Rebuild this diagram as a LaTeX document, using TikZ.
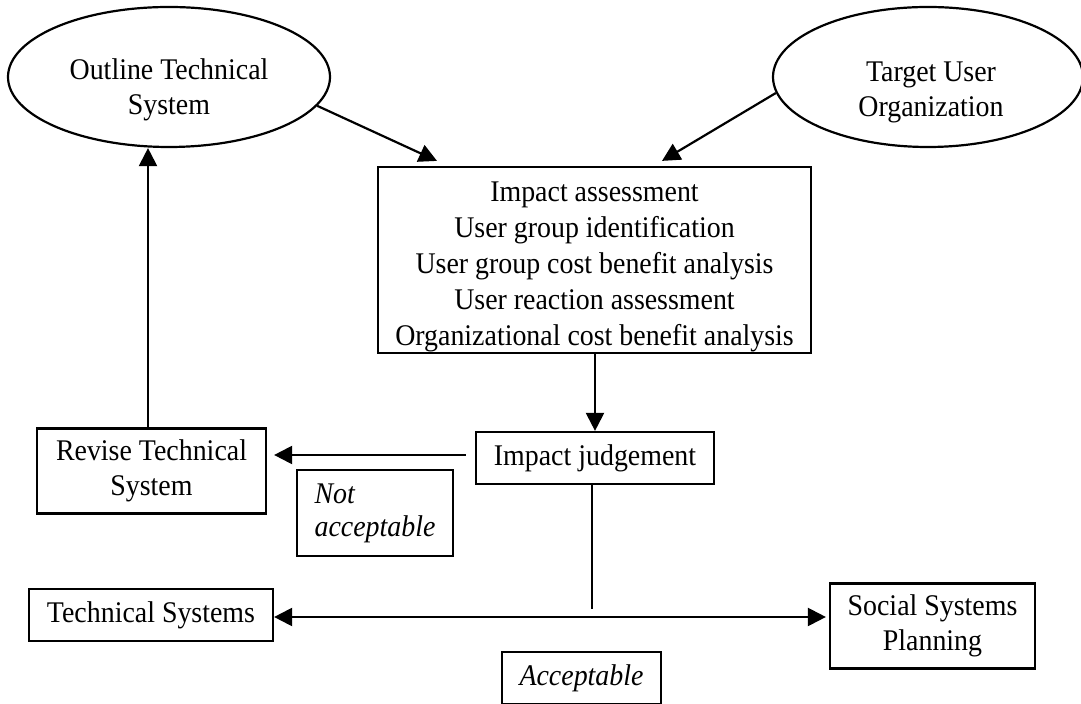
\documentclass[tikz,border=0pt]{standalone}
\usepackage{fontspec}
\setmainfont{Liberation Serif}[FakeStretch=0.93]
\usetikzlibrary{arrows.meta,shapes.geometric}
\begin{document}
\begin{tikzpicture}[x=0.5pt,y=-0.5pt,
  every node/.style={font=\fontsize{15pt}{17.5pt}\selectfont, inner sep=0pt},
  oval/.style={draw, ellipse, line width=1.1pt},
  plain/.style={align=center},
  box/.style={draw, rectangle, line width=1.1pt, align=center},
  note/.style={box, font=\fontsize{15pt}{17.5pt}\selectfont\itshape},
  conn/.style={line width=1.1pt},
  tip/.tip={Triangle[length=9pt,width=9pt]},
  arr/.style={conn, -tip},
  arrboth/.style={conn, tip-tip},
]
\useasboundingbox (0,0) rectangle (1081,704);

% inputs
\node[oval, minimum width=161pt, minimum height=70pt] (ots) at (169,77) {};
\node[plain] (otsText) at (169,90) {Outline Technical\\System};
\node[oval, minimum width=155pt, minimum height=70pt] (tuo) at (928,77) {};
\node[plain] (tuoText) at (931,92) {Target User\\Organization};

% assessment steps (the strut on the first line lowers the text block)
\node[box, minimum width=216.5pt, minimum height=93pt,
      font=\fontsize{15pt}{18pt}\selectfont] (imp) at (594.5,260)
  {\rule{0pt}{16.5pt}Impact assessment\\User group identification\\User group cost benefit analysis\\User reaction assessment\\Organizational cost benefit analysis};
\node[box, minimum width=119pt, minimum height=26pt] (ij) at (595,458) {Impact judgement};
\node[box, minimum width=114.5pt, minimum height=42.5pt] (rts) at (151.5,471) {Revise Technical\\System};
\node[note, align=left, minimum width=78pt, minimum height=43pt,
      font=\fontsize{15pt}{16.5pt}\selectfont\itshape] (nacc) at (375,513) {Not\\acceptable};

% outcomes
\node[box, minimum width=122pt, minimum height=26pt] (ts) at (151,615) {Technical Systems};
\node[box, minimum width=102.5pt, minimum height=42.5pt] (ssp) at (932.5,626) {Social Systems\\Planning};
\node[note, minimum width=79.5pt, minimum height=26pt] (acc) at (581.5,678) {Acceptable};

% connectors
\draw[arr] (ots.-11.6) -- ([shift={(-78.75pt,2.5pt)}]imp.north);
\draw[arr] (tuo.186) -- ([shift={(33.75pt,2.5pt)}]imp.north);
\draw[arr] (imp.south -| ij.north) -- (ij.north);
\draw[arr, shorten <=4.5pt, shorten >=3.5pt] ([yshift=1.5pt]ij.west) -- ([yshift=1.5pt]ij.west -| rts.east);
\draw[arr] ([xshift=-1.75pt]rts.north) -- ([xshift=-1.75pt]rts.north |- ots.south);

\coordinate (fork) at (592,609);
\coordinate (bus) at (592,617);
\draw[conn] (ij.south -| fork) -- (fork);
\draw[arrboth, shorten >=1.5pt] (bus -| ts.east) -- (bus -| ssp.west);
\end{tikzpicture}
\end{document}
